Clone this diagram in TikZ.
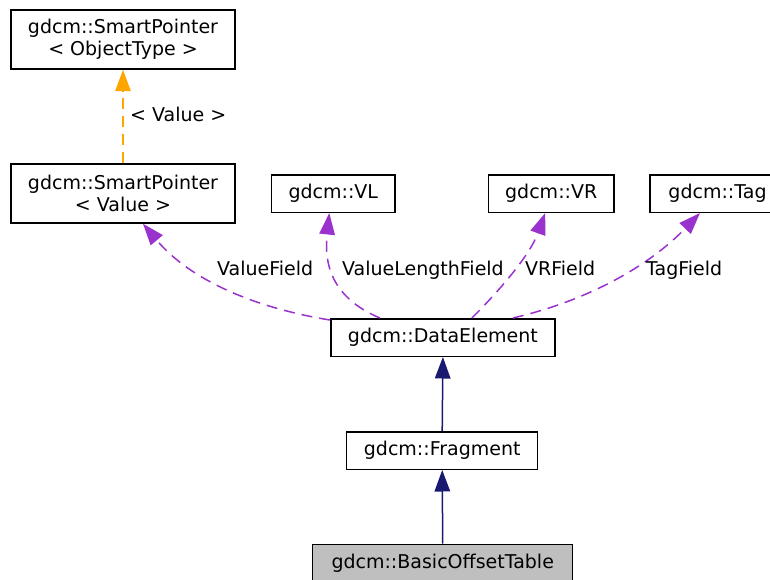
\documentclass[tikz,border=0pt]{standalone}
\usepackage{fontspec}
\setmainfont{DejaVu Sans}
\usetikzlibrary{arrows.meta}
\definecolor{edgepurple}{HTML}{9A32CD}
\definecolor{edgeorange}{HTML}{FFA500}
\definecolor{edgenavy}{HTML}{191970}
\definecolor{boxgray}{HTML}{BFBFBF}
\begin{document}
\begin{tikzpicture}[x=1pt,y=-1pt,
  box/.style={draw=black, line width=1.5pt, fill=white, inner sep=0pt, align=center,
    font=\fontsize{19}{21.7}\selectfont},
  onebox/.style={box, minimum height=37.5pt},
  twobox/.style={box, minimum height=59pt},
  lbl/.style={inner sep=0pt, anchor=base west, font=\fontsize{19}{21.7}\selectfont},
  tipk/.style={-{Triangle[length=21.5pt,width=15.5pt]}},
  usesedge/.style={draw=edgepurple, line width=1.5pt, dash pattern=on 11pt off 7pt, tipk},
  tmpledge/.style={draw=edgeorange, line width=1.5pt, dash pattern=on 11pt off 7pt, tipk},
  inhedge/.style={draw=edgenavy, line width=1.5pt, tipk}]
\useasboundingbox (0,0) rectangle (770,580);
\clip (0,0) rectangle (770,580);

\node[twobox, minimum width=224pt] (spot) at (123,39.5) {gdcm::SmartPointer\\< ObjectType >};
\node[twobox, minimum width=224pt] (spv) at (123,193.5) {gdcm::SmartPointer\\< Value >};
\node[onebox, minimum width=123.3pt] (vl) at (333.3,193.5) {gdcm::VL};
\node[onebox, minimum width=125.7pt] (vr) at (551.2,193.5) {gdcm::VR};
\node[onebox, minimum width=135pt] (tag) at (717.5,193.5) {gdcm::Tag};
\node[onebox, minimum width=224.3pt] (de) at (442.9,337.5) {gdcm::DataElement};
\node[onebox, minimum width=191pt] (frag) at (442.2,450.5) {gdcm::Fragment};
\node[onebox, minimum width=260pt, fill=boxgray] (bot) at (442.7,563) {gdcm::BasicOffsetTable};

% template edge
\draw[tmpledge] (spv.north) -- (spot.south);
\node[lbl] (lv) at (130,121.7) {< Value >};

% uses edges
\draw[usesedge] ([yshift=-2pt]de.north west) .. controls (255,308) and (190,280) .. ([xshift=20pt]spv.south);
\draw[usesedge] ([xshift=-63pt]de.north) .. controls (325,295) and (325,255) .. ([xshift=-4pt]vl.south);
\draw[usesedge] ([xshift=29pt]de.north) .. controls (500,290) and (530,255) .. ([xshift=-6pt]vr.south);
\draw[usesedge] ([xshift=70pt]de.north) .. controls (590,300) and (650,265) .. ([xshift=-17.5pt]tag.south);

\node[lbl] (l1) at (217,275.5) {ValueField};
\node[lbl] (l2) at (342,275.5) {ValueLengthField};
\node[lbl] (l3) at (525,275.5) {VRField};
\node[lbl] (l4) at (646,275.5) {TagField};

% inheritance
\draw[inhedge] (frag.north) -- (de.south);
\draw[inhedge] (bot.north) -- (frag.south);
\end{tikzpicture}
\end{document}
